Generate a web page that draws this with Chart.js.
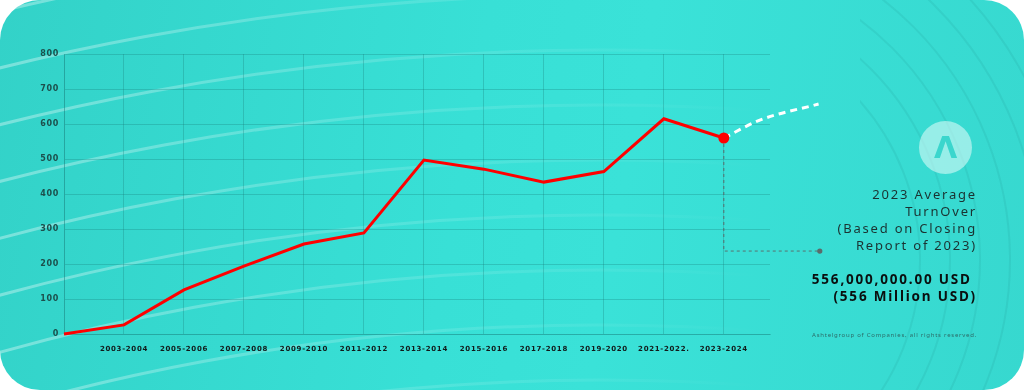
<!DOCTYPE html>
<html>
<head>
<meta charset="utf-8">
<script src="https://cdn.jsdelivr.net/npm/chart.js@4"></script>
<style>
  html, body { margin: 0; padding: 0; background: #ffffff; }
  #card {
    position: absolute; left: 0; top: 0; width: 1024px; height: 390px;
    border-radius: 40px; overflow: hidden;
    background: linear-gradient(100deg, #33d2c8 0%, #38e0d6 45%, #3ae2d8 60%, #37d8cf 100%);
    font-family: "Noto Sans", "DejaVu Sans", sans-serif;
  }
  #waves { position: absolute; left: 0; top: 0; }
  #turnoverChart { position: absolute; left: 0; top: 0; }
  .info { position: absolute; right: 47px; text-align: right; white-space: nowrap; }
  #title { top: 186px; font-size: 13px; line-height: 17px; font-weight: 400; letter-spacing: 1.8px; color: #1b3231; }
  #amount { top: 271px; font-size: 13.5px; line-height: 17px; font-weight: 700; letter-spacing: 1.8px; color: #0a0f0f; }
  #footer { top: 331px; font-size: 6px; letter-spacing: 0.75px; color: #2c6c68; }
  #logo {
    position: absolute; left: 919px; top: 121px; width: 53px; height: 53px; border-radius: 50%;
    background: rgba(215, 250, 246, 0.6); color: #3bd6cd; text-align: center;
    font: 700 30px/53px "DejaVu Sans", sans-serif;
  }
</style>
</head>
<body>
<div id="card">
  <svg id="waves" width="1024" height="390"></svg>
  <canvas id="turnoverChart" width="1024" height="390"></canvas>
  <div id="logo">Λ</div>
  <div class="info" id="title">2023 Average<br>TurnOver<br>(Based on Closing<br>Report of 2023)</div>
  <div class="info" id="amount">556,000,000.00 USD&nbsp;<br>(556 Million USD)</div>
  <div class="info" id="footer">Ashtelgroup of Companies, all rights reserved.</div>
</div>
<script>
// periods (x = 0 is the start point without label)
const periods = ['', '2003-2004', '2005-2006', '2007-2008', '2009-2010', '2011-2012',
                 '2013-2014', '2015-2016', '2017-2018', '2019-2020', '2021-2022.', '2023-2024'];
const turnover = [0, 26, 126, 194, 257, 289, 497, 471, 434, 464, 615, 560];

// projection after 2023-2024 (white dashed)
const projectionX = [11, 11.6, 12.58];
const projectionY = [560, 611, 657];

// leader line from the 2023 point to the note
const leaderX = [11, 11, 12.6];
const leaderY = [560, 237, 237];

const yTicks = [0, 100, 200, 300, 400, 500, 600, 700, 800];

function toPoints(xs, ys) {
    return xs.map((x, i) => ({ x: x, y: ys[i] }));
}

// background curves
const svg = document.getElementById('waves');
let paths = '<defs>' +
    '<linearGradient id="fade" gradientUnits="userSpaceOnUse" x1="0" y1="0" x2="760" y2="0">' +
    '<stop offset="0" stop-color="#ffffff" stop-opacity="0.35"/>' +
    '<stop offset="0.5" stop-color="#ffffff" stop-opacity="0.15"/>' +
    '<stop offset="1" stop-color="#ffffff" stop-opacity="0"/></linearGradient>' +
    '<clipPath id="rightSide"><rect x="860" y="0" width="170" height="390"/></clipPath>' +
    '</defs>';
for (let r = 2010; r <= 2560; r += 55) {
    paths += '<circle cx="600" cy="2500" r="' + r + '" fill="none" stroke="url(#fade)" stroke-width="3"/>';
}
paths += '<g clip-path="url(#rightSide)">';
for (let r = 240; r <= 420; r += 30) {
    paths += '<circle cx="680" cy="260" r="' + r + '" fill="none" stroke="rgba(0,70,70,0.07)" stroke-width="2"/>';
}
paths += '</g>';
svg.innerHTML = paths;

const spacing = {
    id: 'spacing',
    beforeDraw(chart) { chart.ctx.letterSpacing = '0.7px'; }
};

// end dot of the leader line (it sits outside the chart area)
const leaderDot = {
    id: 'leaderDot',
    afterDatasetsDraw(chart) {
        const x = chart.scales.x.getPixelForValue(leaderX[leaderX.length - 1]);
        const y = chart.scales.y.getPixelForValue(leaderY[leaderY.length - 1]);
        const ctx = chart.ctx;
        ctx.save();
        ctx.fillStyle = 'rgba(95, 95, 95, 0.9)';
        ctx.beginPath();
        ctx.arc(x, y, 2.6, 0, Math.PI * 2);
        ctx.fill();
        ctx.restore();
    }
};

const gridColor = 'rgba(20, 120, 115, 0.28)';

new Chart(document.getElementById('turnoverChart'), {
    type: 'line',
    data: {
        datasets: [{
            label: 'Turnover',
            data: toPoints(turnover.map((v, i) => i), turnover),
            borderColor: '#ff0000',
            backgroundColor: '#ff0000',
            borderWidth: 3,
            pointRadius: turnover.map((v, i) => i === turnover.length - 1 ? 4 : 0),
            tension: 0,
            clip: false
        }, {
            label: 'Projection',
            data: toPoints(projectionX, projectionY),
            borderColor: '#ffffff',
            borderWidth: 3,
            borderDash: [7, 5],
            pointRadius: 0,
            cubicInterpolationMode: 'monotone',
            clip: false
        }, {
            label: 'Leader',
            data: toPoints(leaderX, leaderY),
            borderColor: 'rgba(95, 95, 95, 0.85)',
            borderWidth: 1,
            borderDash: [3, 3],
            pointRadius: 0,
            tension: 0,
            clip: false
        }]
    },
    options: {
        responsive: false,
        animation: false,
        layout: { padding: { left: 0, top: 54, right: 254, bottom: 30 } },
        plugins: { legend: { display: false }, tooltip: { enabled: false } },
        scales: {
            x: {
                type: 'linear',
                min: 0,
                max: 11.77,
                afterFit(scale) { scale.height = 26; },
                afterBuildTicks(scale) {
                    scale.ticks = periods.map((p, i) => ({ value: i }));
                },
                grid: { color: gridColor, drawTicks: false },
                border: { color: gridColor },
                ticks: {
                    padding: 11,
                    maxRotation: 0,
                    autoSkip: false,
                    color: '#111a1a',
                    font: { family: 'DejaVu Sans', size: 7, weight: 'bold' },
                    callback: (v) => periods[v] || ''
                }
            },
            y: {
                min: 0,
                max: 800,
                afterFit(scale) { scale.width = 64; },
                afterBuildTicks(scale) {
                    scale.ticks = yTicks.map(v => ({ value: v }));
                },
                grid: { color: gridColor, drawTicks: false },
                border: { color: gridColor },
                ticks: {
                    padding: 5,
                    color: '#1d4f4c',
                    font: { family: 'DejaVu Sans', size: 8, weight: 'bold' }
                }
            }
        }
    },
    plugins: [spacing, leaderDot]
});
</script>
</body>
</html>
